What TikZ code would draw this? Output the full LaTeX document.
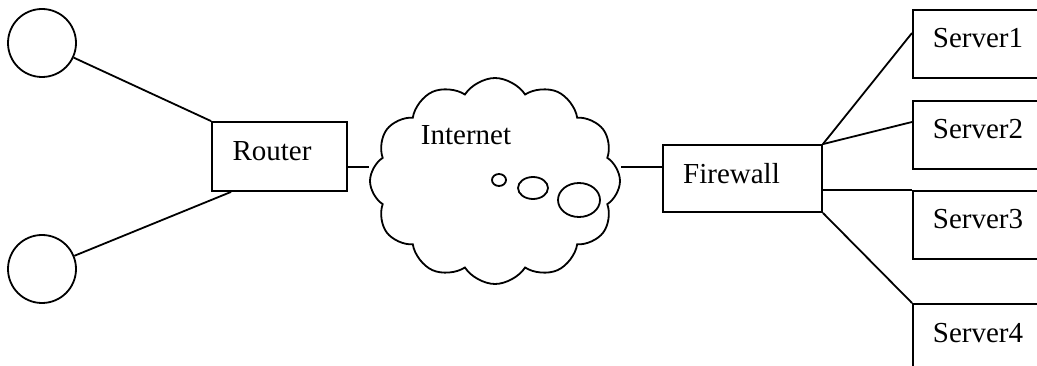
\documentclass[tikz,border=0pt]{standalone}
\usepackage{fontspec}
\setmainfont{Liberation Serif}
\usetikzlibrary{shapes.symbols}
\tikzset{
  wire/.style={line width=1.8pt},
  hostcircle/.style={circle, draw, line width=1.8pt, minimum size=68pt, inner sep=0pt},
  netbox/.style={rectangle, draw, line width=1.8pt, inner sep=0pt, text depth=11pt},
  srvbox/.style={netbox, anchor=north west, minimum width=150pt, minimum height=68pt,
    text width=110pt, inner xsep=20pt, align=left},
  label/.style={font=\fontsize{29}{34}\selectfont}
}
\begin{document}
\begin{tikzpicture}[x=1pt,y=-1pt]
\clip (0,0) rectangle (1037,366);
\node[hostcircle] (pc1) at (42,43) {};
\node[hostcircle] (pc2) at (42,269) {};
\node[netbox, label, minimum width=135pt, minimum height=69pt] (router) at (279.5,156.5) {Router\kern15pt};
\node[cloud, draw, line width=1.8pt, cloud puffs=12, cloud puff arc=115, aspect=1.24,
  minimum width=250pt, minimum height=206pt, inner sep=0pt] (inet) at (495,181) {};
\node[label] (inettext) at (466,135) {Internet};
\draw[line width=1.8pt] (499,180) ellipse [x radius=7pt, y radius=6pt]
  (533,188) ellipse [x radius=15pt, y radius=11pt]
  (579,200) ellipse [x radius=21pt, y radius=17pt];
\node[netbox, label, minimum width=159pt, minimum height=67pt] (fw) at (742.5,178.5) {Firewall\kern22pt};
\foreach \i/\y in {1/9,2/100,3/190,4/303}{
  \node[srvbox, label] (srv\i) at (912,\y) {Server\i};
}
% links
\draw[wire] (pc1) -- (router.north west);
\draw[wire] (pc2) -- ([xshift=20pt]router.south west);
\draw[wire] ([yshift=-10.5pt]router.east) -- ([yshift=-10.5pt]router.east -| inet.west);
\draw[wire] ([yshift=11.5pt]fw.west) -- ([yshift=11.5pt]fw.west -| inet.east);
\draw[wire] (fw.north east) -- ([yshift=-24pt]srv1.north west);
\draw[wire] (fw.north east) -- ([yshift=-22pt]srv2.north west);
\draw[wire] (srv3.north west -| fw.east) -- (srv3.north west);
\draw[wire] (fw.south east) -- (srv4.north west);
\end{tikzpicture}
\end{document}
